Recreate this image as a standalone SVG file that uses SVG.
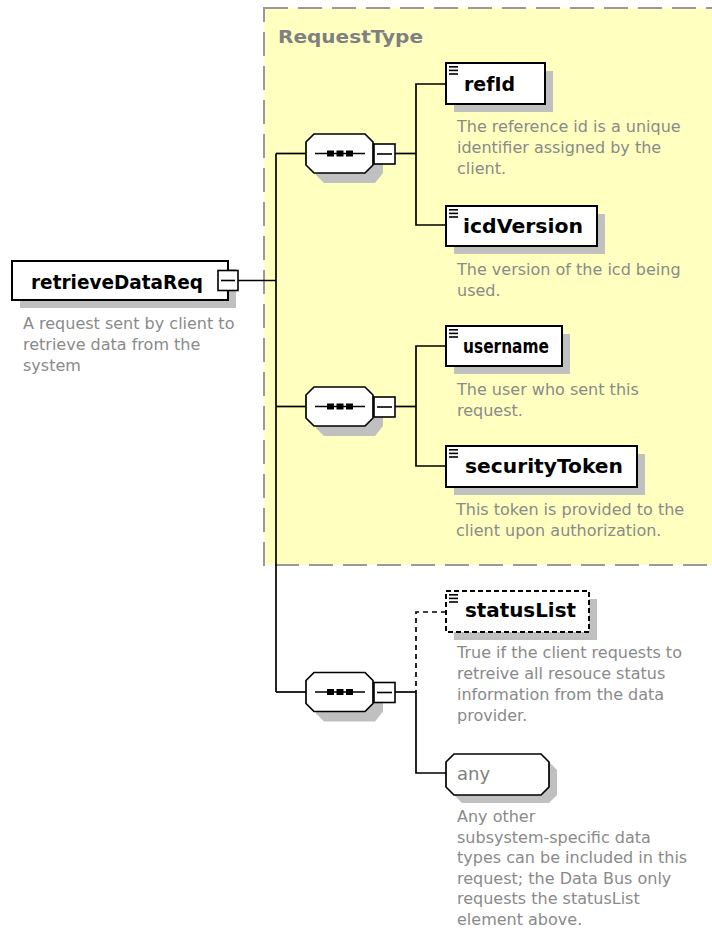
<svg xmlns="http://www.w3.org/2000/svg" width="712" height="934" viewBox="0 0 712 934">
<style>
.bg{fill:#ffffff}
.ctype{fill:#FFFFC0;stroke:#999999;stroke-width:2;stroke-dasharray:24 10}
.ctlabel{font-family:"DejaVu Sans",Verdana,sans-serif;font-weight:bold;font-size:18px;fill:#808080}
.box{fill:#ffffff;stroke:#000000;stroke-width:2}
.dbox{fill:#ffffff;stroke:#000000;stroke-width:2;stroke-dasharray:5 3}
.shadow{fill:#C0C0C0}
.name{font-family:"DejaVu Sans",Verdana,sans-serif;font-weight:bold;font-size:19px;fill:#000000}
.desc{font-family:"DejaVu Sans",Verdana,sans-serif;font-size:16px;fill:#8A8A8A}
.anytxt{font-family:"DejaVu Sans",Verdana,sans-serif;font-size:18px;fill:#808080}
.conn{fill:none;stroke:#000000;stroke-width:1.7}
.dconn{fill:none;stroke:#000000;stroke-width:1.7;stroke-dasharray:5 4}
.mbox{fill:#ffffff;stroke:#000000;stroke-width:1.6}
.mline{stroke:#000000;stroke-width:1.6}
.seq{fill:#ffffff;stroke:#000000;stroke-width:1.7}
.dot{fill:#000000}
.ico{fill:#000000}
</style>
<defs>
  <g id="seqshape">
    <polygon class="shadow" points="324,144 373,144 383,154 383,173 375,183 324,183 316,175 316,154"/>
    <polygon class="seq" points="314,134 365,134 373,142 373,165 365,173 314,173 306,165 306,142"/>
    <line class="mline" x1="315" y1="153.5" x2="365" y2="153.5"/>
    <rect class="dot" x="327" y="150.5" width="7" height="6"/>
    <rect class="dot" x="336.5" y="150.5" width="7" height="6"/>
    <rect class="dot" x="346" y="150.5" width="7" height="6"/>
    <rect class="mbox" x="374" y="144" width="21" height="20"/>
    <line class="mline" x1="377" y1="154" x2="392" y2="154"/>
  </g>
  <g id="ico">
    <rect class="ico" x="0" y="0" width="9" height="1.6"/>
    <rect class="ico" x="0" y="3.6" width="9" height="1.6"/>
    <rect class="ico" x="0" y="7.2" width="9" height="1.6"/>
  </g>
</defs>
<rect class="bg" x="0" y="0" width="712" height="934"/>

<g id="RequestType">
  <rect class="ctype" x="264" y="8" width="470" height="557"/>
  <text class="ctlabel" x="278" y="43" textLength="145" lengthAdjust="spacingAndGlyphs">RequestType</text>
</g>

<g id="connectors">
  <line class="conn" x1="238" y1="280.5" x2="276" y2="280.5"/>
  <line class="conn" x1="276" y1="153.5" x2="276" y2="692"/>
  <line class="conn" x1="276" y1="153.5" x2="306" y2="153.5"/>
  <line class="conn" x1="276" y1="406.5" x2="306" y2="406.5"/>
  <line class="conn" x1="276" y1="692" x2="306" y2="692"/>
  <line class="conn" x1="395" y1="153.5" x2="416" y2="153.5"/>
  <polyline class="conn" points="446,84 416,84 416,225 446,225"/>
  <line class="conn" x1="395" y1="406.5" x2="416" y2="406.5"/>
  <polyline class="conn" points="446,346 416,346 416,466 446,466"/>
  <line class="conn" x1="395" y1="692" x2="416" y2="692"/>
  <polyline class="dconn" points="446,612 416,612 416,692"/>
  <polyline class="conn" points="416,692 416,773 446,773"/>
</g>

<g id="retrieveDataReq">
  <rect class="shadow" x="20" y="269" width="216" height="39"/>
  <rect class="box" x="12" y="261" width="216" height="39"/>
  <text class="name" x="31" y="289" textLength="172" lengthAdjust="spacingAndGlyphs">retrieveDataReq</text>
  <rect class="mbox" x="218" y="270.5" width="20" height="20"/>
  <line class="mline" x1="221" y1="280.5" x2="235" y2="280.5"/>
  <text class="desc" x="23" y="329">A request sent by client to</text>
  <text class="desc" x="23" y="350">retrieve data from the</text>
  <text class="desc" x="23" y="371">system</text>
</g>

<g id="sequence1">
  <use href="#seqshape"/>
</g>
<g id="sequence2">
  <use href="#seqshape" transform="translate(0,253)"/>
</g>
<g id="sequence3">
  <use href="#seqshape" transform="translate(0,538.5)"/>
</g>

<g id="refId">
  <rect class="shadow" x="454" y="71" width="99" height="41"/>
  <rect class="box" x="446" y="63" width="99" height="41"/>
  <use href="#ico" transform="translate(449,66)"/>
  <text class="name" x="464" y="91" textLength="51" lengthAdjust="spacingAndGlyphs">refId</text>
  <text class="desc" x="457" y="132">The reference id is a unique</text>
  <text class="desc" x="457" y="153">identifier assigned by the</text>
  <text class="desc" x="457" y="174">client.</text>
</g>

<g id="icdVersion">
  <rect class="shadow" x="454" y="214" width="151" height="40"/>
  <rect class="box" x="446" y="206" width="151" height="40"/>
  <use href="#ico" transform="translate(449,209)"/>
  <text class="name" x="463" y="233" textLength="120" lengthAdjust="spacingAndGlyphs">icdVersion</text>
  <text class="desc" x="457" y="275">The version of the icd being</text>
  <text class="desc" x="457" y="296">used.</text>
</g>

<g id="username">
  <rect class="shadow" x="454" y="334" width="116" height="40"/>
  <rect class="box" x="446" y="326" width="116" height="40"/>
  <use href="#ico" transform="translate(449,329)"/>
  <text class="name" x="463" y="353" textLength="86" lengthAdjust="spacingAndGlyphs">username</text>
  <text class="desc" x="457" y="395">The user who sent this</text>
  <text class="desc" x="457" y="416">request.</text>
</g>

<g id="securityToken">
  <rect class="shadow" x="454" y="454" width="191" height="41"/>
  <rect class="box" x="446" y="446" width="191" height="41"/>
  <use href="#ico" transform="translate(449,449)"/>
  <text class="name" x="465" y="473" textLength="158" lengthAdjust="spacingAndGlyphs">securityToken</text>
  <text class="desc" x="456" y="515">This token is provided to the</text>
  <text class="desc" x="456" y="536">client upon authorization.</text>
</g>

<g id="statusList">
  <rect class="shadow" x="454" y="599" width="143" height="41"/>
  <rect class="dbox" x="446" y="591" width="143" height="41"/>
  <use href="#ico" transform="translate(449,594)"/>
  <text class="name" x="465" y="617" textLength="111" lengthAdjust="spacingAndGlyphs">statusList</text>
  <text class="desc" x="457" y="658">True if the client requests to</text>
  <text class="desc" x="457" y="679">retreive all resouce status</text>
  <text class="desc" x="457" y="700">information from the data</text>
  <text class="desc" x="457" y="721">provider.</text>
</g>

<g id="any">
  <polygon class="shadow" points="462,762 549,762 557,770 557,795 549,803 462,803 454,795 454,770"/>
  <polygon class="seq" points="454,754 541,754 549,762 549,787 541,795 454,795 446,787 446,762"/>
  <text class="anytxt" x="457" y="780">any</text>
  <text class="desc" x="457" y="822">Any other</text>
  <text class="desc" x="457" y="843">subsystem-specific data</text>
  <text class="desc" x="457" y="863">types can be included in this</text>
  <text class="desc" x="457" y="884">request; the Data Bus only</text>
  <text class="desc" x="457" y="904">requests the statusList</text>
  <text class="desc" x="457" y="925">element above.</text>
</g>
</svg>
